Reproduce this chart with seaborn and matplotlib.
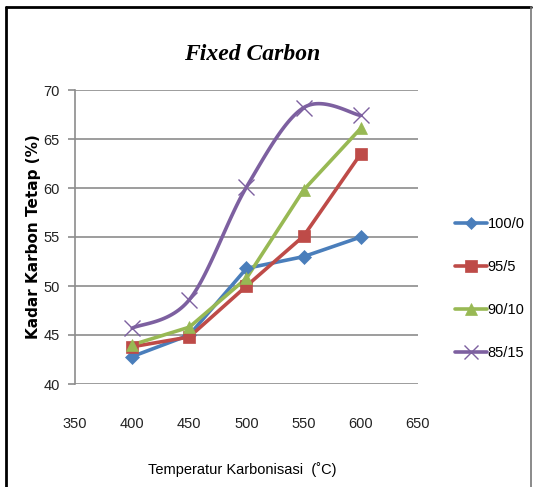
import numpy as np
import matplotlib
matplotlib.use("Agg")
import matplotlib.pyplot as plt
from matplotlib.lines import Line2D
import seaborn as sns

temps = [400, 450, 500, 550, 600]
s100_0 = [42.8, 45.0, 51.8, 53.0, 55.0]
s95_5 = [43.8, 44.8, 50.0, 55.1, 63.5]
s90_10 = [44.0, 45.8, 50.8, 59.8, 66.1]
s85_15 = [45.7, 48.6, 60.1, 68.2, 67.4]
labels = ["100/0", "95/5", "90/10", "85/15"]
colors = ["#4A7EBB", "#BE4B48", "#98B954", "#7D60A0"]
markers = ["D", "s", "^", "x"]
msizes = [7, 9, 9, 11]
smooth = [False, False, False, True]
x_ticks = [350, 400, 450, 500, 550, 600, 650]
y_ticks = [40, 45, 50, 55, 60, 65, 70]

sns.set_theme(style="white")
plt.rcParams['font.family'] = ['Liberation Sans', 'DejaVu Sans']
plt.rcParams['text.color'] = 'black'

fig = plt.figure(figsize=(5.35, 4.87), dpi=100)
ax = fig.add_axes([75/535, 1-384/487, (418-75)/535, (384-90)/487])


def excel_smooth(xs, ys, n=30):
    xs = np.asarray(xs, float); ys = np.asarray(ys, float)
    P = np.column_stack([xs, ys])
    out = []
    for i in range(len(P)-1):
        p0 = P[i-1] if i > 0 else P[i]
        p1 = P[i]; p2 = P[i+1]
        p3 = P[i+2] if i+2 < len(P) else P[i+1]
        c1 = p1 + (p2 - p0)/6
        c2 = p2 - (p3 - p1)/6
        t = np.linspace(0, 1, n)[:, None]
        seg = (1-t)**3*p1 + 3*(1-t)**2*t*c1 + 3*(1-t)*t**2*c2 + t**3*p2
        out.append(seg if i == 0 else seg[1:])
    seg = np.vstack(out)
    return seg[:, 0], seg[:, 1]


series = [s100_0, s95_5, s90_10, s85_15]
handles = []
for vals, lab, col, mk, ms, sm in zip(series, labels, colors, markers, msizes, smooth):
    if sm:
        sx, sy = excel_smooth(temps, vals)
    else:
        sx, sy = temps, vals
    sns.lineplot(x=sx, y=sy, ax=ax, color=col, linewidth=2.6, sort=False,
                 estimator=None, legend=False, zorder=3)
    ax.plot(temps, vals, linestyle="none", marker=mk, markersize=ms, color=col,
            markeredgewidth=1.0 if mk == "x" else 0.5, zorder=4)
    handles.append(Line2D([0], [0], color=col, linewidth=2.6, marker=mk,
                          markersize=ms-1, markeredgewidth=1.0 if mk == "x" else 0.5))

ax.set_xlim(350, 650)
ax.set_ylim(40, 70)
ax.set_xticks(x_ticks)
ax.set_yticks(y_ticks)
ax.yaxis.grid(True, color="#8c8c8c", linewidth=1.2)
ax.xaxis.grid(False)
for s in ["top", "right", "bottom"]:
    ax.spines[s].set_visible(False)
ax.spines["left"].set_color("#8c8c8c")
ax.spines["left"].set_linewidth(1.2)
ax.tick_params(axis="y", left=True, length=5, width=1.2, color="#8c8c8c",
               pad=6, labelsize=10.5, labelcolor="#222222")
ax.tick_params(axis="x", bottom=False, pad=18, labelsize=10.5, labelcolor="#222222")

ax.set_ylabel("Kadar Karbon Tetap (%)", fontsize=11, fontweight="bold",
              family=["DejaVu Sans"], color="black")
ax.yaxis.set_label_coords(-0.098, 0.5)
ax.set_xlabel("Temperatur Karbonisasi  (˚C)", fontsize=10.5, color="black")
ax.xaxis.set_label_coords((242 - 75)/343, -0.265)

fig.text(252/535, 1-54/487, "Fixed Carbon", ha="center", va="center",
         fontsize=17, fontstyle="italic", fontweight="bold", color="black",
         family=["Liberation Serif", "DejaVu Serif"])

fig.legend(handles=handles, labels=labels, loc="upper left",
           bbox_to_anchor=(449/535, 1-211/487), frameon=False,
           fontsize=10.5, handlelength=2.2, handletextpad=0.05,
           labelspacing=2.0, borderaxespad=0)

# outer frame
fig.add_artist(Line2D([6/535, 6/535], [0, 1-7/487], transform=fig.transFigure,
                      color="black", linewidth=2))
fig.add_artist(Line2D([6/535, 531/535], [1-7/487, 1-7/487], transform=fig.transFigure,
                      color="black", linewidth=2))
fig.add_artist(Line2D([531/535, 531/535], [0, 1-7/487], transform=fig.transFigure,
                      color="#777777", linewidth=1.2))

fig.savefig("out.png", dpi=100)
